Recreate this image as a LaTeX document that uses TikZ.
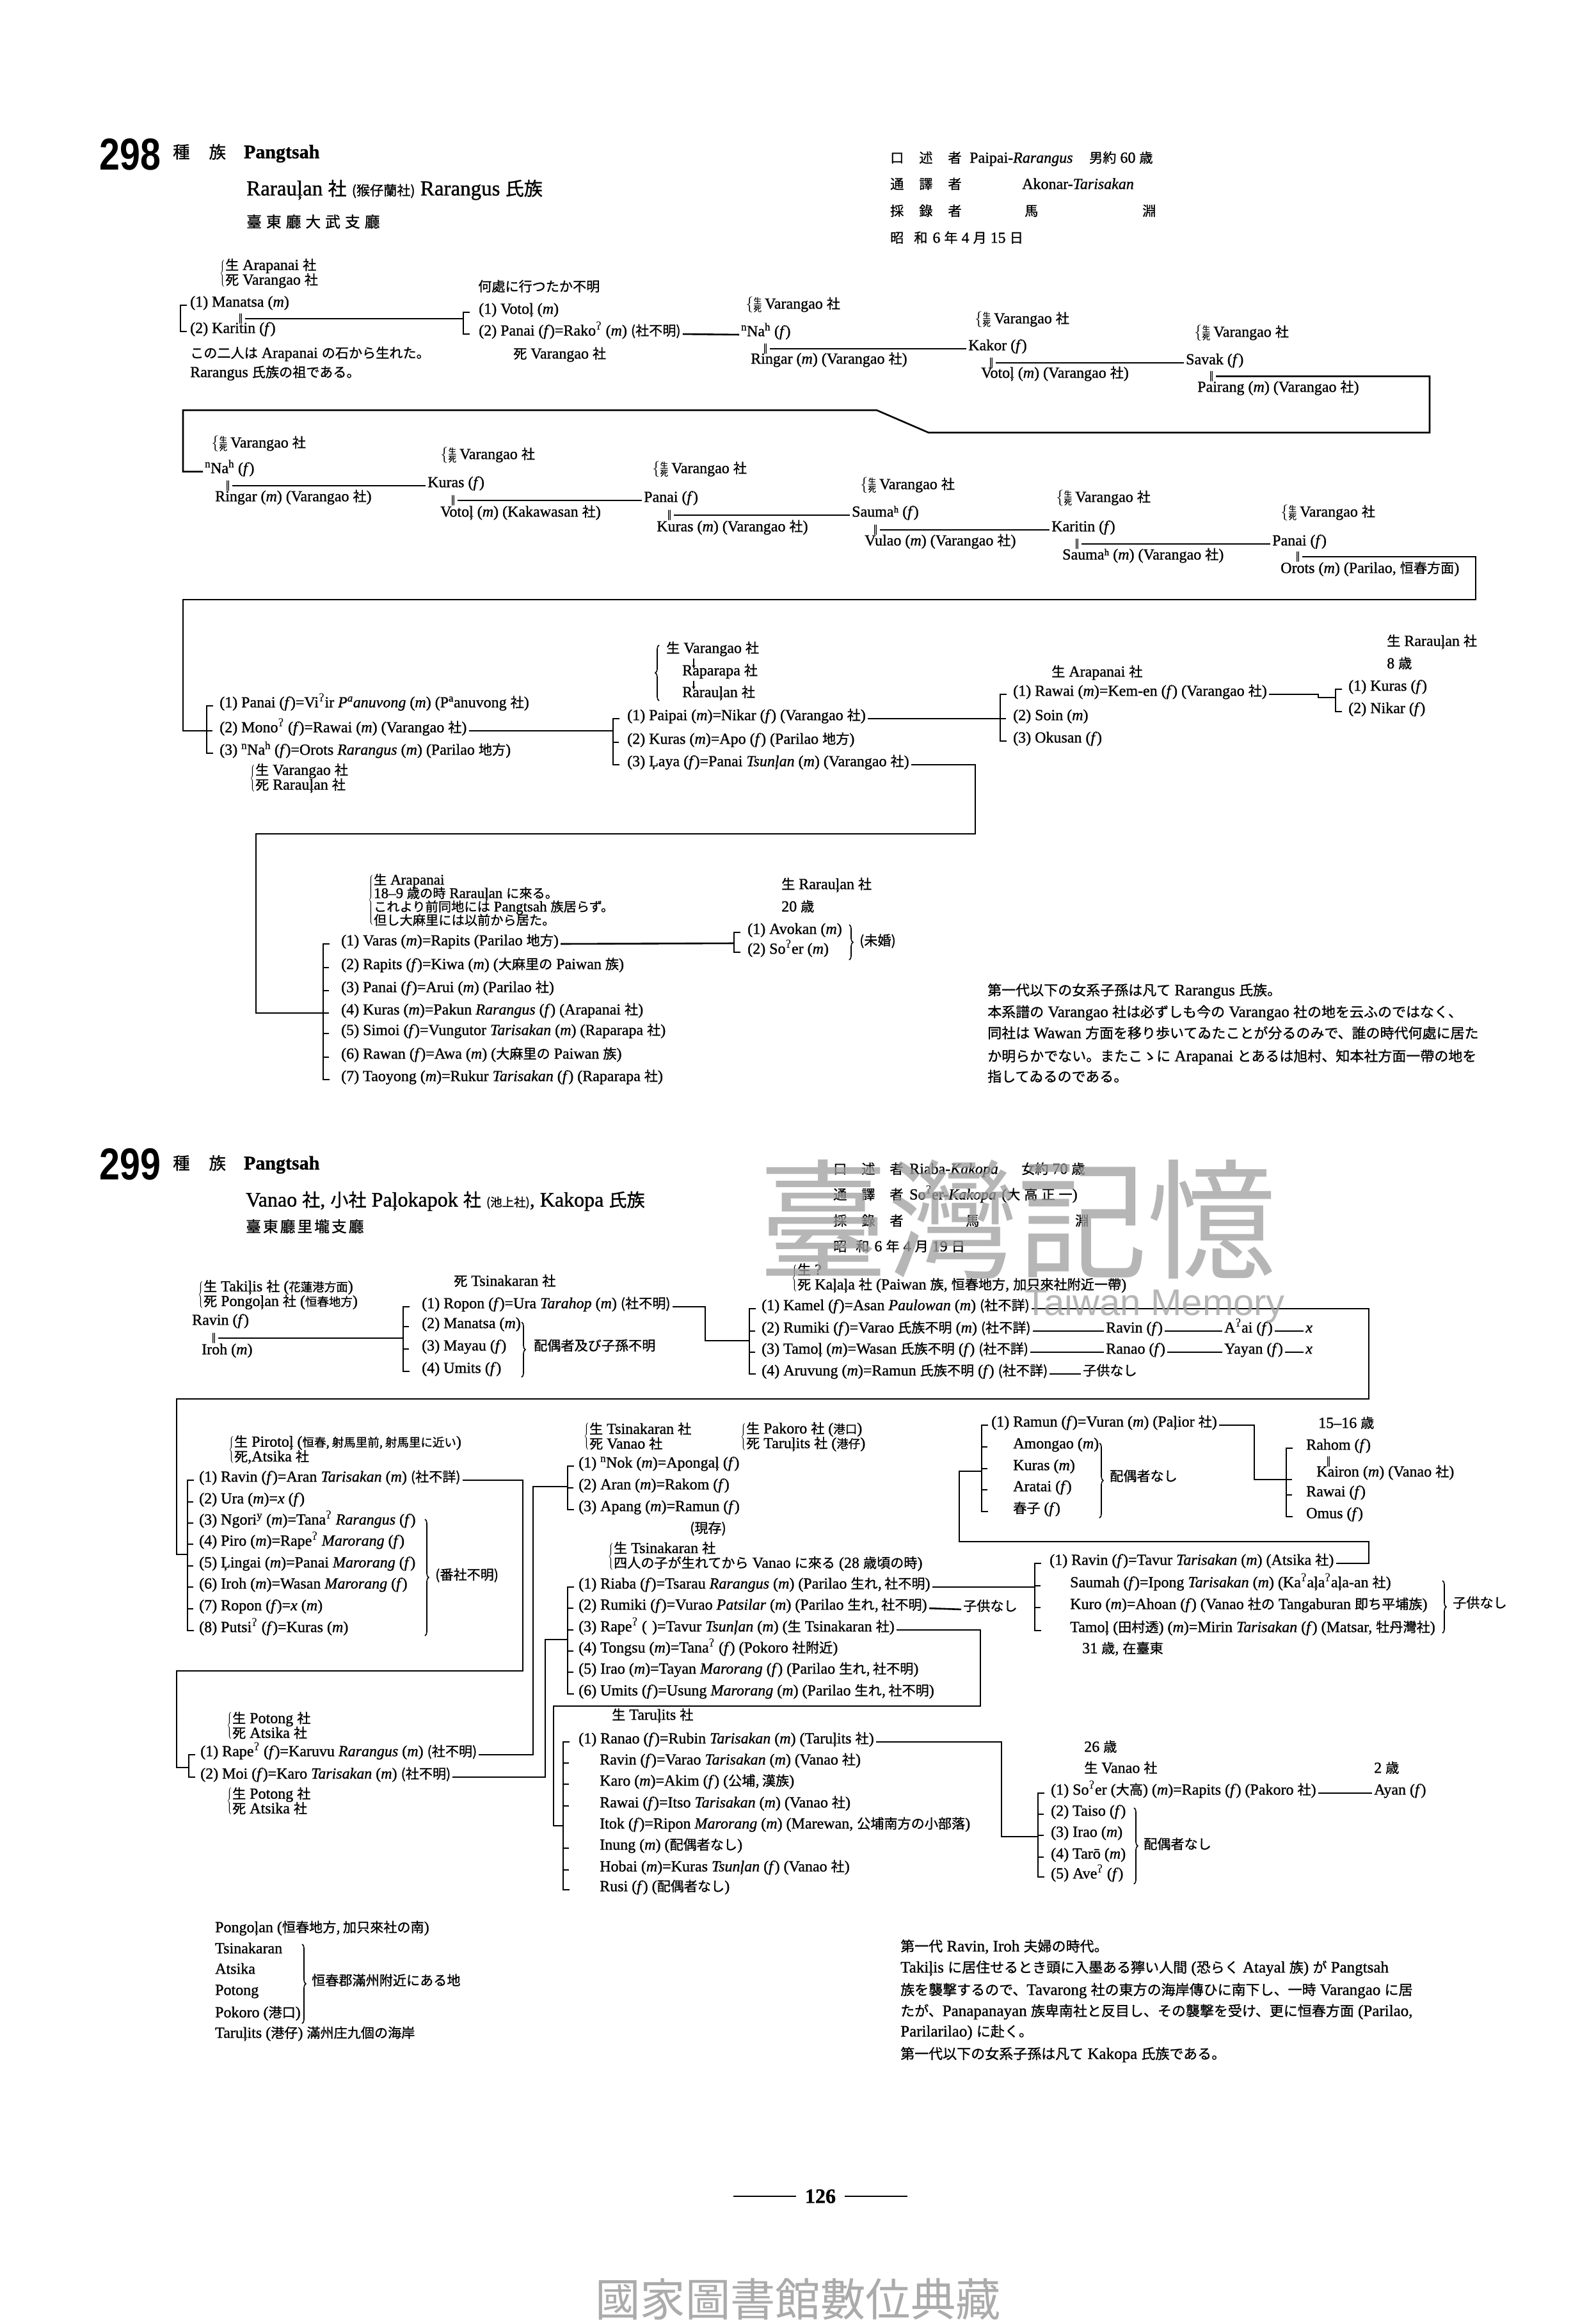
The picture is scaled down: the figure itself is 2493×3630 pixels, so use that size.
\documentclass[tikz,border=0pt]{standalone}
\usepackage{fontspec}
\setmainfont{Liberation Serif}[FakeBold=1.2]
\newfontfamily\cjk{Noto Sans CJK JP}[Scale=0.88,FakeBold=1]
\newfontfamily\cjkw{Noto Sans CJK JP}[Scale=0.88]
\newfontfamily\dvs{DejaVu Serif}
\newfontfamily\dvsans{DejaVu Sans}
\newfontfamily\lsans{Liberation Sans}
\usetikzlibrary{decorations.pathreplacing}
\newcommand\J[1]{{\cjk #1}}
\newcommand\Js[1]{{\cjk\fontsize{21}{22}\selectfont #1}}
\newcommand\gs{\textsuperscript{\dvs ʔ}}
\newcommand\gm{(\textit{m})}
\newcommand\gf{(\textit{f})}
\newcommand\shsi{\ensuremath{\left\{\vcenter{\baselineskip=12pt\lineskiplimit=-20pt\hbox{\cjk\fontsize{14}{12}\selectfont 生}\hbox{\cjk\fontsize{14}{12}\selectfont 死}}\right.}\,}
\newcommand\twol[2]{\ensuremath{\left\{\vcenter{\baselineskip=23pt\lineskiplimit=-20pt\hbox{#1}\hbox{#2}}\right.}}
\newcommand\brk[4]{\draw[ln] ({#1+10},#2) -- (#1,#2) -- (#1,#3) -- ({#1+10},#3); \foreach \tk in {#4}{\draw[ln] (#1,\tk) -- ({#1+9},\tk);}}
\newcommand\rbr[3]{\draw[br] (#1,#2) -- (#1,#3);}
\newcommand\lbr[3]{\draw[br] (#1,#3) -- (#1,#2);}
\begin{document}
\begin{tikzpicture}[x=1pt,y=-1pt,
 t/.style={anchor=mid west, inner sep=0pt, font=\fontsize{24}{28}\selectfont},
 tc/.style={anchor=center, inner sep=0pt, font=\fontsize{24}{28}\selectfont},
 db/.style={anchor=center, inner sep=0pt, font=\dvsans\fontsize{16}{16}\selectfont},
 ln/.style={line width=2.6pt},
 lk/.style={line width=2.6pt, shorten <=3pt, shorten >=3pt},
 lc/.style={line width=2.6pt, shorten <=3pt},
 br/.style={line width=1.6pt, decorate, decoration={brace, amplitude=6pt}},
 big/.style={anchor=base west, inner sep=0pt, font=\lsans\bfseries\fontsize{70}{70}\selectfont},
 wm/.style={anchor=center, inner sep=0pt, text=black!38, opacity=0.75}]
\useasboundingbox[fill=white] (0,0) rectangle (2493,3630);

%================ 298 header
\node[big] (num298) at (155,265) {\scalebox{0.82}[1]{298}};
\node[t, font=\fontsize{30}{32}\selectfont] (tr298) at (270,245) {\J{種}\hspace{30pt}\J{族}\hspace{28pt}\textbf{Pangtsah}};
\node[t, font=\fontsize{33}{36}\selectfont] (soc298) at (385,303) {Rarauļan \J{社} {\cjk\fontsize{24}{24}\selectfont (猴仔蘭社)} Rarangus \J{氏族}};
\node[t, font=\fontsize{27}{30}\selectfont] (dist298) at (385,353) {\J{臺}\hspace{7pt}\J{東}\hspace{7pt}\J{廳}\hspace{7pt}\J{大}\hspace{7pt}\J{武}\hspace{7pt}\J{支}\hspace{7pt}\J{廳}};
\node[t] (ha1) at (1391,252) {\J{口}\hspace{24pt}\J{述}\hspace{24pt}\J{者}};
\node[t] (ha2) at (1515,252) {Paipai-\textit{Rarangus}};
\node[t] (ha3) at (1702,252) {\J{男約} 60 \J{歳}};
\node[t] (hb1) at (1391,293) {\J{通}\hspace{24pt}\J{譯}\hspace{24pt}\J{者}};
\node[t] (hb2) at (1597,293) {Akonar-\textit{Tarisakan}};
\node[t] (hc1) at (1391,335) {\J{採}\hspace{24pt}\J{錄}\hspace{24pt}\J{者}};
\node[t] (hc2) at (1601,335) {\J{馬}};
\node[t] (hc3) at (1785,335) {\J{淵}};
\node[t] (hd1) at (1391,377) {\J{昭}\hspace{16pt}\J{和}\hspace{8pt}6\hspace{6pt}\J{年}\hspace{6pt}4\hspace{6pt}\J{月}\hspace{6pt}15\hspace{6pt}\J{日}};

%================ 298 row 1
\node[t] (g0) at (343,431) {\twol{\J{生} Arapanai \J{社}}{\J{死} Varangao \J{社}}};
\brk{282}{477}{518}{477}
\node[t] (p1) at (297,477) {(1) Manatsa \gm};
\node[db] (p1d) at (376,498) {‖};
\node[t] (p2) at (297,518) {(2) Karitin \gf};
\brk{724}{488}{522}{488}
\coordinate (b2in) at (724,498);
\draw[lc] (p1d.east) -- (b2in);
\node[t] (n1) at (297,557) {\J{この二人は} Arapanai \J{の石から生れた。}};
\node[t] (n2) at (297,587) {Rarangus \J{氏族の祖である。}};
\node[t] (n3) at (747,453) {\J{何處に行つたか不明}};
\node[t] (p3) at (748,488) {(1) Votoļ \gm};
\node[t] (p4) at (748,522) {(2) Panai \gf=Rako\gs{} \gm{} \J{(社不明)}};
\node[t] (n4) at (802,558) {\J{死} Varangao \J{社}};

\node[t] (c1l) at (1165,480) {\shsi Varangao \J{社}};
\node[t] (c1f) at (1158,523) {\textsuperscript{n}Na\textsuperscript{h} \gf};
\node[db] (c1d) at (1196,545) {‖};
\node[t] (c1m) at (1173,566) {Ringar \gm{} (Varangao \J{社})};
\draw[lk] (p4.mid east) -- (c1f.mid west);
\node[t] (c2l) at (1523,503) {\shsi Varangao \J{社}};
\node[t] (c2f) at (1513,545) {Kakor \gf};
\node[db] (c2d) at (1549,567) {‖};
\node[t] (c2m) at (1533,588) {Votoļ \gm{} (Varangao \J{社})};
\draw[lk] (c1d.east) -- (c2f.mid west);
\node[t] (c3l) at (1866,524) {\shsi Varangao \J{社}};
\node[t] (c3f) at (1853,567) {Savak \gf};
\node[db] (c3d) at (1893,588) {‖};
\node[t] (c3m) at (1871,610) {Pairang \gm{} (Varangao \J{社})};
\draw[lk] (c2d.east) -- (c3f.mid west);

%================ 298 row 2
\node[t] (d1l) at (330,697) {\shsi Varangao \J{社}};
\node[t] (d1f) at (320,737) {\textsuperscript{n}Na\textsuperscript{h} \gf};
\node[db] (d1d) at (356,759) {‖};
\node[t] (d1m) at (336,781) {Ringar \gm{} (Varangao \J{社})};
\node[t] (d2l) at (688,715) {\shsi Varangao \J{社}};
\node[t] (d2f) at (668,759) {Kuras \gf};
\node[db] (d2d) at (708,782) {‖};
\node[t] (d2m) at (688,805) {Votoļ \gm{} (Kakawasan \J{社})};
\node[t] (d3l) at (1019,737) {\shsi Varangao \J{社}};
\node[t] (d3f) at (1006,782) {Panai \gf};
\node[db] (d3d) at (1046,805) {‖};
\node[t] (d3m) at (1026,828) {Kuras \gm{} (Varangao \J{社})};
\node[t] (d4l) at (1344,762) {\shsi Varangao \J{社}};
\node[t] (d4f) at (1331,805) {Saumaʰ \gf};
\node[db] (d4d) at (1368,828) {‖};
\node[t] (d4m) at (1351,850) {Vulao \gm{} (Varangao \J{社})};
\node[t] (d5l) at (1650,782) {\shsi Varangao \J{社}};
\node[t] (d5f) at (1643,828) {Karitin \gf};
\node[db] (d5d) at (1683,850) {‖};
\node[t] (d5m) at (1660,872) {Saumaʰ \gm{} (Varangao \J{社})};
\node[t] (d6l) at (2001,805) {\shsi Varangao \J{社}};
\node[t] (d6f) at (1988,850) {Panai \gf};
\node[db] (d6d) at (2028,870) {‖};
\node[t] (d6m) at (2001,893) {Orots \gm{} (Parilao, \J{恒春方面})};
\draw[lk] (c3d.east) -- (2234,588) -- (2234,676) -- (1451,676) -- (1370,641) -- (286,641) -- (286,737) -- (d1f.mid west);
\draw[lk] (d1d.east) -- (d2f.mid west);
\draw[lk] (d2d.east) -- (d3f.mid west);
\draw[lk] (d3d.east) -- (d4f.mid west);
\draw[lk] (d4d.east) -- (d5f.mid west);
\draw[lk] (d5d.east) -- (d6f.mid west);

%================ 298 row 3
\brk{323}{1103}{1177}{1142}
\coordinate (b3in) at (323,1142);
\draw[lc] (d6d.east) -- (2306,870) -- (2306,937) -- (286,937) -- (286,1142) -- (b3in);
\node[t] (e1) at (343,1103) {(1) Panai \gf=Vi\gs ir \textit{P\textsuperscript{a}anuvong} \gm{} (P\textsuperscript{a}anuvong \J{社})};
\node[t] (e2) at (343,1142) {(2) Mono\gs{} \gf=Rawai \gm{} (Varangao \J{社})};
\node[t] (e3) at (343,1177) {(3) \textsuperscript{n}Na\textsuperscript{h} \gf=Orots \textit{Rarangus} \gm{} (Parilao \J{地方})};
\node[t] (e4) at (390,1220) {\twol{\J{生} Varangao \J{社}}{\J{死} Rarauļan \J{社}}};
\brk{958}{1123}{1195}{1160}
\coordinate (b3bin) at (958,1142);
\draw[lc] (e2.mid east) -- (b3bin);
\node[t] (f1) at (980,1123) {(1) Paipai \gm=Nikar \gf{} (Varangao \J{社})};
\node[t] (f2) at (980,1160) {(2) Kuras \gm=Apo \gf{} (Parilao \J{地方})};
\node[t] (f3) at (980,1195) {(3) Ļaya \gf=Panai \textit{Tsunļan} \gm{} (Varangao \J{社})};
\lbr{1030}{1008}{1095}
\node[t] (g1) at (1041,1018) {\J{生} Varangao \J{社}};
\node[t] (g2) at (1066,1053) {Raparapa \J{社}};
\node[t] (g3) at (1066,1087) {Rarauļan \J{社}};
\draw[line width=1.4pt,-stealth] (g1.south -| 1084,0) ++(0,3) -- ++(0,16);
\draw[line width=1.4pt,-stealth] (g2.south -| 1084,0) ++(0,3) -- ++(0,14);
\brk{1563}{1085}{1158}{1123}
\coordinate (b3cin) at (1563,1123);
\draw[lc] (f1.mid east) -- (b3cin);
\node[t] (h0) at (1643,1055) {\J{生} Arapanai \J{社}};
\node[t] (h1) at (1583,1085) {(1) Rawai \gm=Kem-en \gf{} (Varangao \J{社})};
\node[t] (h2) at (1583,1123) {(2) Soin \gm};
\node[t] (h3) at (1583,1158) {(3) Okusan \gf};
\brk{2087}{1077}{1112}{1077}
\coordinate (b3din) at (2087,1090);
\draw[lc] (h1.mid east) -- (2060,1085) -- (2060,1090) -- (b3din);
\node[t] (k0) at (2167,1007) {\J{生} Rarauļan \J{社}};
\node[t] (k0a) at (2167,1042) {8 \J{歳}};
\node[t] (k1) at (2107,1077) {(1) Kuras \gf};
\node[t] (k2) at (2107,1112) {(2) Nikar \gf};

%================ 298 row 4
\brk{505}{1475}{1687}{1512,1548,1583,1615,1652}
\coordinate (b4in) at (505,1583);
\draw[lc] (f3.mid east) -- (1524,1195) -- (1524,1303) -- (400,1303) -- (400,1583) -- (b4in);
\node[t, font=\fontsize{23}{24}\selectfont] (q0) at (575,1410) {\ensuremath{\left\{\vcenter{\baselineskip=21pt\lineskiplimit=-20pt
 \hbox{\J{生} Arapanai}
 \hbox{18--9 \J{歳の時} Rarauļan \J{に來る。}}
 \hbox{\J{これより前同地には} Pangtsah \J{族居らず。}}
 \hbox{\J{但し大麻里には以前から居た。}}}\right.}};
\node[t] (q1) at (533,1475) {(1) Varas \gm=Rapits (Parilao \J{地方})};
\node[t] (q2) at (533,1512) {(2) Rapits \gf=Kiwa \gm{} (\J{大麻里の} Paiwan \J{族})};
\node[t] (q3) at (533,1548) {(3) Panai \gf=Arui \gm{} (Parilao \J{社})};
\node[t] (q4) at (533,1583) {(4) Kuras \gm=Pakun \textit{Rarangus} \gf{} (Arapanai \J{社})};
\node[t] (q5) at (533,1615) {(5) Simoi \gf=Vungutor \textit{Tarisakan} \gm{} (Raparapa \J{社})};
\node[t] (q6) at (533,1652) {(6) Rawan \gf=Awa \gm{} (\J{大麻里の} Paiwan \J{族})};
\node[t] (q7) at (533,1687) {(7) Taoyong \gm=Rukur \textit{Tarisakan} \gf{} (Raparapa \J{社})};
\brk{1147}{1457}{1488}{1457}
\coordinate (b4bin) at (1147,1474);
\draw[lc] (q1.mid east) -- (b4bin);
\node[t] (s0) at (1221,1387) {\J{生} Rarauļan \J{社}};
\node[t] (s0a) at (1221,1422) {20 \J{歳}};
\node[t] (s1) at (1168,1457) {(1) Avokan \gm};
\node[t] (s2) at (1168,1488) {(2) So\gs er \gm};
\rbr{1327}{1445}{1500}
\node[t] (s3) at (1343,1475) {\J{(未婚)}};
\node[t, font=\fontsize{25}{28}\selectfont] (nt1) at (1543,1553) {\J{第一代以下の女系子孫は凡て} Rarangus \J{氏族。}};
\node[t, font=\fontsize{25}{28}\selectfont] (nt2) at (1543,1587) {\J{本系譜の} Varangao \J{社は必ずしも今の} Varangao \J{社の地を云ふのではなく、}};
\node[t, font=\fontsize{25}{28}\selectfont] (nt3) at (1543,1620) {\J{同社は} Wawan \J{方面を移り歩いてゐたことが分るのみで、誰の時代何處に居た}};
\node[t, font=\fontsize{25}{28}\selectfont] (nt4) at (1543,1656) {\J{か明らかでない。またこゝに} Arapanai \J{とあるは旭村、知本社方面一帶の地を}};
\node[t, font=\fontsize{25}{28}\selectfont] (nt5) at (1543,1688) {\J{指してゐるのである。}};

%================ 299 header
\node[big] (num299) at (155,1843) {\scalebox{0.82}[1]{299}};
\node[t, font=\fontsize{30}{32}\selectfont] (tr299) at (270,1825) {\J{種}\hspace{30pt}\J{族}\hspace{28pt}\textbf{Pangtsah}};
\node[t, font=\fontsize{32}{35}\selectfont] (soc299) at (384,1883) {Vanao \J{社}, \J{小社} Paļokapok \J{社} {\cjk\fontsize{21}{21}\selectfont (池上社)}, Kakopa \J{氏族}};
\node[t, font=\fontsize{27}{30}\selectfont] (dist299) at (384,1923) {\J{臺}\hspace{3pt}\J{東}\hspace{3pt}\J{廳}\hspace{3pt}\J{里}\hspace{3pt}\J{壠}\hspace{3pt}\J{支}\hspace{3pt}\J{廳}};
\node[t] (ia1) at (1302,1832) {\J{口}\hspace{23pt}\J{述}\hspace{23pt}\J{者}};
\node[t] (ia2) at (1421,1832) {Riaba-\textit{Kakopa}};
\node[t] (ia3) at (1596,1832) {\J{女約} 70 \J{歳}};
\node[t] (ib1) at (1302,1872) {\J{通}\hspace{23pt}\J{譯}\hspace{23pt}\J{者}};
\node[t] (ib2) at (1421,1872) {So\gs er-\textit{Kakopa}};
\node[t] (ib3) at (1565,1872) {(\J{大}\hspace{6pt}\J{高}\hspace{6pt}\J{正}\hspace{6pt}\J{一})};
\node[t] (ic1) at (1302,1913) {\J{採}\hspace{23pt}\J{錄}\hspace{23pt}\J{者}};
\node[t] (ic2) at (1509,1913) {\J{馬}};
\node[t] (ic3) at (1680,1913) {\J{淵}};
\node[t] (id1) at (1302,1953) {\J{昭}\hspace{14pt}\J{和}\hspace{8pt}6\hspace{6pt}\J{年}\hspace{6pt}4\hspace{6pt}\J{月}\hspace{6pt}19\hspace{6pt}\J{日}};

%================ 299 row 1
\node[t] (i0) at (1237,2001) {\twol{\J{生} ?}{\J{死} Kaļaļa \J{社} (Paiwan \J{族}, \J{恒春地方}, \J{加只來社附近一帶})}};
\node[t] (u0) at (309,2027) {\twol{\J{生} Takiļis \J{社} (\Js{花蓮港方面})}{\J{死} Pongoļan \J{社} (\Js{恒春地方})}};
\node[t] (u0f) at (300,2068) {Ravin \gf};
\node[db] (u0d) at (334,2091) {‖};
\node[t] (u0m) at (315,2114) {Iroh \gm};
\node[t] (u00) at (709,2007) {\J{死} Tsinakaran \J{社}};
\brk{630}{2042}{2143}{2073,2108}
\coordinate (b5in) at (630,2091);
\draw[lc] (u0d.east) -- (b5in);
\node[t] (u1) at (659,2042) {(1) Ropon \gf=Ura \textit{Tarahop} \gm{} \J{(社不明)}};
\node[t] (u2) at (659,2073) {(2) Manatsa \gm};
\node[t] (u3) at (659,2108) {(3) Mayau \gf};
\node[t] (u4) at (659,2143) {(4) Umits \gf};
\rbr{815}{2066}{2152}
\node[t] (u5) at (834,2108) {\J{配偶者及び子孫不明}};
\brk{1171}{2045}{2147}{2080,2113}
\coordinate (b5bin) at (1171,2095);
\draw[lc] (u1.mid east) -- (1102,2042) -- (1102,2095) -- (b5bin);
\node[t] (v1) at (1190,2045) {(1) Kamel \gf=Asan \textit{Paulowan} \gm{} \J{(社不詳)}};
\node[t] (v2) at (1190,2080) {(2) Rumiki \gf=Varao \J{氏族不明} \gm{} \J{(社不詳)}};
\node[t] (v2a) at (1728,2080) {Ravin \gf};
\node[t] (v2b) at (1913,2080) {A\gs ai \gf};
\node[t] (v2c) at (2040,2080) {\textit{x}};
\draw[lk] (v2.mid east) -- (v2a.mid west);
\draw[lk] (v2a.mid east) -- (v2b.mid west);
\draw[lk] (v2b.mid east) -- (v2c.mid west);
\node[t] (v3) at (1190,2113) {(3) Tamoļ \gm=Wasan \J{氏族不明} \gf{} \J{(社不詳)}};
\node[t] (v3a) at (1728,2113) {Ranao \gf};
\node[t] (v3b) at (1913,2113) {Yayan \gf};
\node[t] (v3c) at (2040,2113) {\textit{x}};
\draw[lk] (v3.mid east) -- (v3a.mid west);
\draw[lk] (v3a.mid east) -- (v3b.mid west);
\draw[lk] (v3b.mid east) -- (v3c.mid west);
\node[t] (v4) at (1190,2147) {(4) Aruvung \gm=Ramun \J{氏族不明} \gf{} \J{(社不詳)}};
\node[t] (v4a) at (1692,2147) {\J{子供なし}};
\draw[lk] (v4.mid east) -- (v4a.mid west);

%================ 299 Pirotol block
\brk{293}{2313}{2548}{2347,2380,2413,2447,2480,2514}
\coordinate (b6in) at (293,2429);
\draw[lc] (v1.mid east) -- (2139,2045) -- (2139,2186) -- (276,2186) -- (276,2429) -- (b6in);
\node[t] (w0) at (357,2269) {\twol{\J{生} Pirotoļ (\Js{恒春, 射馬里前, 射馬里に近い})}{\J{死},Atsika \J{社}}};
\node[t] (w1) at (311,2313) {(1) Ravin \gf=Aran \textit{Tarisakan} \gm{} \J{(社不詳)}};
\node[t] (w2) at (311,2347) {(2) Ura \gm=\textit{x} \gf};
\node[t] (w3) at (311,2380) {(3) Ngori\textsuperscript{y} \gm=Tana\gs{} \textit{Rarangus} \gf};
\node[t] (w4) at (311,2413) {(4) Piro \gm=Rape\gs{} \textit{Marorang} \gf};
\node[t] (w5) at (311,2447) {(5) Ļingai \gm=Panai \textit{Marorang} \gf};
\node[t] (w6) at (311,2480) {(6) Iroh \gm=Wasan \textit{Marorang} \gf};
\node[t] (w7) at (311,2514) {(7) Ropon \gf=\textit{x} \gm};
\node[t] (w8) at (311,2548) {(8) Putsi\gs{} \gf=Kuras \gm};
\rbr{664}{2374}{2556}
\node[t] (w9) at (680,2466) {\J{(番社不明)}};

%================ 299 Potong block
\node[t] (x0) at (354,2700) {\twol{\J{生} Potong \J{社}}{\J{死} Atsika \J{社}}};
\brk{295}{2742}{2777}{2742}
\coordinate (b7in) at (295,2762);
\draw[lc] (w1.mid east) -- (817,2313) -- (817,2611) -- (276,2611) -- (276,2762) -- (b7in);
\node[t] (x1) at (313,2742) {(1) Rape\gs{} \gf=Karuvu \textit{Rarangus} \gm{} \J{(社不明)}};
\node[t] (x2) at (313,2777) {(2) Moi \gf=Karo \textit{Tarisakan} \gm{} \J{(社不明)}};
\node[t] (x3) at (354,2818) {\twol{\J{生} Potong \J{社}}{\J{死} Atsika \J{社}}};

%================ 299 middle
\node[t] (y0) at (912,2248) {\twol{\J{生} Tsinakaran \J{社}}{\J{死} Vanao \J{社}}};
\node[t] (y0b) at (1157,2249) {\twol{\J{生} Pakoro \J{社} (\Js{港口})}{\J{死} Taruļits \J{社} (\Js{港仔})}};
\brk{887}{2291}{2359}{2325}
\coordinate (b8in) at (887,2323);
\draw[lc] (x1.mid east) -- (833,2742) -- (833,2323) -- (b8in);
\node[t] (y1) at (904,2291) {(1) \textsuperscript{n}Nok \gm=Apongaļ \gf};
\node[t] (y2) at (904,2325) {(2) Aran \gm=Rakom \gf};
\node[t] (y3) at (904,2359) {(3) Apang \gm=Ramun \gf};
\node[t] (y4) at (1078,2393) {\J{(現存)}};
\node[t] (z0) at (950,2436) {\twol{\J{生} Tsinakaran \J{社}}{\J{四人の子が生れてから} Vanao \J{に來る} (28 \J{歳頃の時})}};
\brk{887}{2480}{2647}{2513,2547,2580,2613}
\coordinate (b9in) at (887,2562);
\draw[lc] (x2.mid east) -- (852,2777) -- (852,2562) -- (b9in);
\node[t] (z1) at (904,2480) {(1) Riaba \gf=Tsarau \textit{Rarangus} \gm{} (Parilao \J{生れ, 社不明})};
\node[t] (z2) at (904,2513) {(2) Rumiki \gf=Vurao \textit{Patsilar} \gm{} (Parilao \J{生れ, 社不明})};
\node[t] (z2a) at (1505,2515) {\J{子供なし}};
\draw[lk] (z2.mid east) -- (z2a.mid west);
\node[t] (z3) at (904,2547) {(3) Rape\gs{} (\,\,)=Tavur \textit{Tsunļan} \gm{} (\J{生} Tsinakaran \J{社})};
\node[t] (z4) at (904,2580) {(4) Tongsu \gm=Tana\gs{} \gf{} (Pokoro \J{社附近})};
\node[t] (z5) at (904,2613) {(5) Irao \gm=Tayan \textit{Marorang} \gf{} (Parilao \J{生れ, 社不明})};
\node[t] (z6) at (904,2647) {(6) Umits \gf=Usung \textit{Marorang} \gm{} (Parilao \J{生れ, 社不明})};

%================ 299 Tarulits block
\node[t] (t0) at (956,2685) {\J{生} Taruļits \J{社}};
\brk{880}{2722}{2953}{2755,2788,2822,2888,2922}
\coordinate (b10in) at (880,2853);
\draw[lc] (z3.mid east) -- (1532,2547) -- (1532,2666) -- (865,2666) -- (865,2853) -- (b10in);
\node[t] (t1) at (904,2722) {(1) Ranao \gf=Rubin \textit{Tarisakan} \gm{} (Taruļits \J{社})};
\node[t] (t2) at (937,2755) {Ravin \gf=Varao \textit{Tarisakan} \gm{} (Vanao \J{社})};
\node[t] (t3) at (937,2788) {Karo \gm=Akim \gf{} (\J{公埔, 漢族})};
\node[t] (t4) at (937,2822) {Rawai \gf=Itso \textit{Tarisakan} \gm{} (Vanao \J{社})};
\node[t] (t5) at (937,2855) {Itok \gf=Ripon \textit{Marorang} \gm{} (Marewan, \J{公埔南方の小部落})};
\node[t] (t6) at (937,2888) {Inung \gm{} (\J{配偶者なし})};
\node[t] (t7) at (937,2922) {Hobai \gm=Kuras \textit{Tsunļan} \gf{} (Vanao \J{社})};
\node[t] (t8) at (937,2953) {Rusi \gf{} (\J{配偶者なし})};
\brk{1622}{2802}{2933}{2835,2868,2902}
\coordinate (b11in) at (1622,2870);
\draw[lc] (t1.mid east) -- (1565,2722) -- (1565,2870) -- (b11in);
\node[t] (o0) at (1694,2735) {26 \J{歳}};
\node[t] (o0b) at (1694,2768) {\J{生} Vanao \J{社}};
\node[t] (o0c) at (2147,2768) {2 \J{歳}};
\node[t] (o1) at (1642,2802) {(1) So\gs er (\J{大高}) \gm=Rapits \gf{} (Pakoro \J{社})};
\node[t] (o1a) at (2147,2802) {Ayan \gf};
\draw[lk] (o1.mid east) -- (o1a.mid west);
\node[t] (o2) at (1642,2835) {(2) Taiso \gf};
\node[t] (o3) at (1642,2868) {(3) Irao \gm};
\node[t] (o4) at (1642,2902) {(4) Tarō \gm};
\node[t] (o5) at (1642,2933) {(5) Ave\gs{} \gf};
\rbr{1772}{2825}{2944}
\node[t] (o6) at (1787,2887) {\J{配偶者なし}};

%================ 299 right upper
\brk{1534}{2227}{2362}{2261,2295,2328}
\coordinate (b12in) at (1534,2299);
\node[t] (r1) at (1549,2227) {(1) Ramun \gf=Vuran \gm{} (Paļior \J{社})};
\node[t] (r2) at (1583,2261) {Amongao \gm};
\node[t] (r3) at (1583,2295) {Kuras \gm};
\node[t] (r4) at (1583,2328) {Aratai \gf};
\node[t] (r5) at (1583,2362) {\J{春子} \gf};
\rbr{1718}{2255}{2372}
\node[t] (r6) at (1734,2312) {\J{配偶者なし}};
\brk{2010}{2263}{2370}{2312,2336}
\coordinate (b13in) at (2010,2312);
\draw[lc] (r1.mid east) -- (1960,2227) -- (1960,2312) -- (b13in);
\node[t] (m0) at (2060,2229) {15--16 \J{歳}};
\node[t] (m1) at (2041,2263) {Rahom \gf};
\node[db] (m1d) at (2076,2284) {‖};
\node[t] (m2) at (2057,2305) {Kairon \gm{} (Vanao \J{社})};
\node[t] (m3) at (2041,2336) {Rawai \gf};
\node[t] (m4) at (2041,2370) {Omus \gf};

\brk{1617}{2443}{2548}{2478,2512}
\coordinate (b14in) at (1617,2480);
\draw[lc] (z1.mid east) -- (b14in);
\node[t] (a1) at (1640,2443) {(1) Ravin \gf=Tavur \textit{Tarisakan} \gm{} (Atsika \J{社})};
\draw[lc] (a1.mid east) -- (2139,2443) -- (2139,2409) -- (1499,2409) -- (1499,2299) -- (b12in);
\node[t] (a2) at (1672,2478) {Saumah \gf=Ipong \textit{Tarisakan} \gm{} (Ka\gs aļa\gs aļa-an \J{社})};
\node[t] (a3) at (1672,2512) {Kuro \gm=Ahoan \gf{} (Vanao \J{社の} Tangaburan \J{即ち平埔族})};
\node[t] (a4) at (1672,2548) {Tamoļ (\J{田村透}) \gm=Mirin \textit{Tarisakan} \gf{} (Matsar, \J{牡丹灣社})};
\rbr{2254}{2470}{2552}
\node[t] (a5) at (2270,2510) {\J{子供なし}};
\node[t] (a6) at (1691,2581) {31 \J{歳}, \J{在臺東}};

%================ 299 notes
\node[t] (bn1) at (336,3017) {Pongoļan (\J{恒春地方, 加只來社の南})};
\node[t] (bn2) at (336,3050) {Tsinakaran};
\node[t] (bn3) at (336,3082) {Atsika};
\node[t] (bn4) at (336,3115) {Potong};
\node[t] (bn5) at (336,3150) {Pokoro (\J{港口})};
\rbr{472}{3038}{3162}
\node[t] (bn6) at (487,3100) {\J{恒春郡滿州附近にある地}};
\node[t] (bn7) at (336,3182) {Taruļits (\J{港仔}) \J{滿州庄九個の海岸}};
\node[t, font=\fontsize{25}{28}\selectfont] (rn1) at (1407,3047) {\J{第一代} Ravin, Iroh \J{夫婦の時代。}};
\node[t, font=\fontsize{25}{28}\selectfont] (rn2) at (1407,3080) {Takiļis \J{に居住せるとき頭に入墨ある獰い人間} (\J{恐らく} Atayal \J{族}) \J{が} Pangtsah};
\node[t, font=\fontsize{25}{28}\selectfont] (rn3) at (1407,3115) {\J{族を襲撃するので、}Tavarong \J{社の東方の海岸傳ひに南下し、一時} Varangao \J{に居}};
\node[t, font=\fontsize{25}{28}\selectfont] (rn4) at (1407,3148) {\J{たが、}Panapanayan \J{族卑南社と反目し、その襲撃を受け、更に恒春方面} (Parilao,};
\node[t, font=\fontsize{25}{28}\selectfont] (rn5) at (1407,3180) {Parilarilao) \J{に赴く。}};
\node[t, font=\fontsize{25}{28}\selectfont] (rn6) at (1407,3215) {\J{第一代以下の女系子孫は凡て} Kakopa \J{氏族である。}};

%================ page number
\node[tc, font=\bfseries\fontsize{32}{32}\selectfont] (pg) at (1282,3432) {126};
\coordinate (pgl) at (1146,3432);
\coordinate (pgr) at (1418,3432);
\draw[ln, shorten <=14pt] (pg.west) -- (pgl);
\draw[ln, shorten <=14pt] (pg.east) -- (pgr);

%================ watermarks
\node[wm, font=\cjkw\fontsize{230}{230}\selectfont] (wm1) at (1590,1905) {臺灣記憶};
\node[wm, font=\lsans\fontsize{58}{58}\selectfont] (wm2) at (1805,2040) {Taiwan Memory};
\node[anchor=north, inner sep=0pt, text=black!33, font=\cjkw\fontsize{80}{80}\selectfont] (wm3) at (1247,3560) {國家圖書館數位典藏};
\end{tikzpicture}
\end{document}
